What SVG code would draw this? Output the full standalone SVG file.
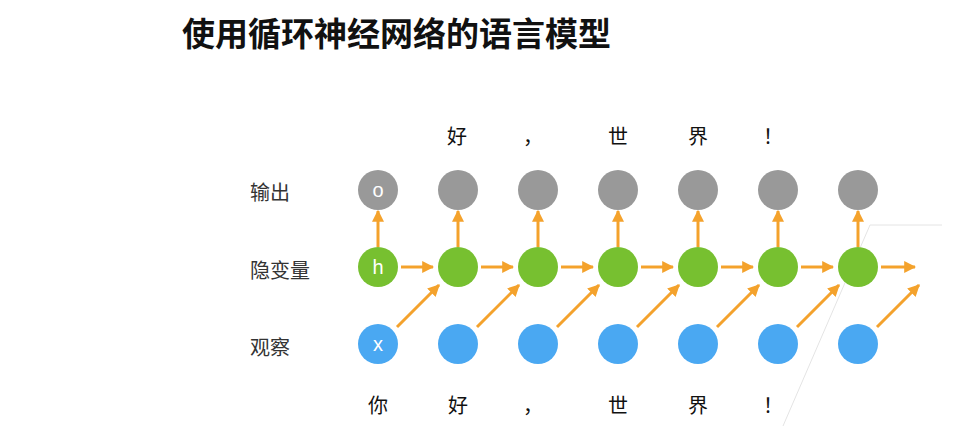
<svg xmlns="http://www.w3.org/2000/svg" width="979" height="426" viewBox="0 0 979 426">
<style>
text{font-family:"Noto Sans CJK SC","Noto Sans",sans-serif}
.o{fill:#999}.h{fill:#77c030}.x{fill:#4aa8f2}
.lbl{font-size:20px;fill:#333}
.w{font-size:20px;fill:#111;text-anchor:middle}
.in{font-family:"Liberation Sans",sans-serif;font-size:20px;fill:#fff;text-anchor:middle}
.a{stroke:#f4a22c;stroke-width:3;fill:none;marker-end:url(#ar)}
</style>
<defs><marker id="ar" viewBox="0 0 10 10" refX="9" refY="5" markerWidth="4" markerHeight="4" orient="auto" markerUnits="strokeWidth"><path d="M0,0L10,5L0,10z" fill="#f4a22c"/></marker></defs>
<rect width="979" height="426" fill="#fff"/>
<text x="182" y="46" font-size="33" font-weight="bold" fill="#111">使用循环神经网络的语言模型</text>
<path d="M942,225H870L783,426" stroke="#e4e4e4" stroke-width="1" fill="none"/>
<g id="labels">
<text class="lbl" x="250" y="200">输出</text>
<text class="lbl" x="250" y="278">隐变量</text>
<text class="lbl" x="250" y="355">观察</text>
<text class="w" x="457" y="144">好</text><text class="w" x="533" y="144">，</text><text class="w" x="618" y="144">世</text><text class="w" x="698" y="144">界</text><text class="w" x="773" y="144">！</text>
<text class="w" x="378" y="413">你</text><text class="w" x="458" y="413">好</text><text class="w" x="533" y="413">，</text><text class="w" x="618" y="413">世</text><text class="w" x="698" y="413">界</text><text class="w" x="773" y="413">！</text>
</g>
<g id="connectors">
<path class="a" d="M378,247V211"/><path class="a" d="M458,247V211"/><path class="a" d="M538,247V211"/><path class="a" d="M618,247V211"/><path class="a" d="M698,247V211"/><path class="a" d="M778,247V211"/><path class="a" d="M858,247V211"/>
<path class="a" d="M401,267H433"/><path class="a" d="M481,267H513"/><path class="a" d="M561,267H593"/><path class="a" d="M641,267H673"/><path class="a" d="M721,267H753"/><path class="a" d="M801,267H833"/><path class="a" d="M881,267H915"/>
<path class="a" d="M397,327L439,285"/><path class="a" d="M477,327L519,285"/><path class="a" d="M557,327L599,285"/><path class="a" d="M637,327L679,285"/><path class="a" d="M717,327L759,285"/><path class="a" d="M797,327L839,285"/><path class="a" d="M877,327L919,285"/>
</g>
<g id="n_o"><circle class="o" cx="378" cy="190" r="20"/><text class="in" x="378" y="197">o</text></g>
<g id="n_o2"><circle class="o" cx="458" cy="190" r="20"/></g>
<g id="n_o3"><circle class="o" cx="538" cy="190" r="20"/></g>
<g id="n_o4"><circle class="o" cx="618" cy="190" r="20"/></g>
<g id="n_o5"><circle class="o" cx="698" cy="190" r="20"/></g>
<g id="n_o6"><circle class="o" cx="778" cy="190" r="20"/></g>
<g id="n_o7"><circle class="o" cx="858" cy="190" r="20"/></g>
<g id="n_h"><circle class="h" cx="378" cy="267" r="20"/><text class="in" x="378" y="274">h</text></g>
<g id="n_h2"><circle class="h" cx="458" cy="267" r="20"/></g>
<g id="n_h3"><circle class="h" cx="538" cy="267" r="20"/></g>
<g id="n_h4"><circle class="h" cx="618" cy="267" r="20"/></g>
<g id="n_h5"><circle class="h" cx="698" cy="267" r="20"/></g>
<g id="n_h6"><circle class="h" cx="778" cy="267" r="20"/></g>
<g id="n_h7"><circle class="h" cx="858" cy="267" r="20"/></g>
<g id="n_x"><circle class="x" cx="378" cy="344" r="20"/><text class="in" x="378" y="351">x</text></g>
<g id="n_x2"><circle class="x" cx="458" cy="344" r="20"/></g>
<g id="n_x3"><circle class="x" cx="538" cy="344" r="20"/></g>
<g id="n_x4"><circle class="x" cx="618" cy="344" r="20"/></g>
<g id="n_x5"><circle class="x" cx="698" cy="344" r="20"/></g>
<g id="n_x6"><circle class="x" cx="778" cy="344" r="20"/></g>
<g id="n_x7"><circle class="x" cx="858" cy="344" r="20"/></g>
</svg>
